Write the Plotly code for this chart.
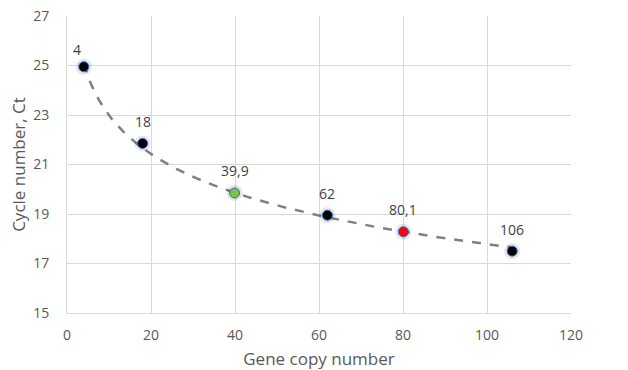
import numpy as np
import plotly.graph_objects as go

copies = [4, 18, 39.9, 62, 80.1, 106]
ct = [24.95, 21.85, 19.85, 18.95, 18.28, 17.5]
point_labels = ["4", "18", "39,9", "62", "80,1", "106"]
point_colors = ["#000000", "#000000", "#7dc242", "#000000", "#ff0000", "#000000"]

# logarithmic trendline fitted to the data
a, b = np.polyfit(np.log(copies), ct, 1)
tx = np.linspace(min(copies), max(copies), 200)
ty = a * np.log(tx) + b

FONT = "Open Sans, Liberation Sans, sans-serif"

fig = go.Figure()
fig.add_trace(go.Scatter(x=tx, y=ty, mode="lines",
                         line=dict(color="#808080", width=2.5, dash="dash"),
                         hoverinfo="skip", showlegend=False))
# soft shadow
fig.add_trace(go.Scatter(x=copies, y=ct, mode="markers",
                         marker=dict(size=16, color="rgba(0,0,0,0.10)", line=dict(width=0)),
                         hoverinfo="skip", showlegend=False))
fig.add_trace(go.Scatter(x=copies, y=ct, mode="markers",
                         marker=dict(size=10, color=point_colors,
                                     line=dict(color="#2f64d0", width=1)),
                         showlegend=False))

for i, (xv, yv, lab) in enumerate(zip(copies, ct, point_labels)):
    fig.add_annotation(x=xv, y=yv, text=lab, showarrow=False,
                       xshift=-7 if i == 0 else 0, yshift=22 if i > 0 else 17,
                       font=dict(family=FONT, size=14, color="#404040"))

axis_font = dict(family=FONT, size=14, color="#595959")
title_font = dict(family=FONT, size=17, color="#595959")

fig.update_layout(
    width=628, height=370,
    margin=dict(l=67, r=57, t=16, b=57),
    paper_bgcolor="white", plot_bgcolor="white",
    xaxis=dict(range=[0, 120], dtick=20, tick0=0, showgrid=True, gridcolor="#d9d9d9",
               gridwidth=1, zeroline=False, showline=True, linecolor="#d9d9d9",
               tickfont=axis_font, ticks="", ticklabelstandoff=9, automargin=False,
               title=dict(text="Gene copy number", font=title_font, standoff=23)),
    yaxis=dict(range=[15, 27], dtick=2, tick0=15, showgrid=True, gridcolor="#d9d9d9",
               gridwidth=1, zeroline=False, showline=True, linecolor="#d9d9d9",
               tickfont=axis_font, ticks="", ticklabelstandoff=14, automargin=False,
               title=dict(text="Cycle number, Ct", font=title_font, standoff=3)),
)

fig.write_html("out.html", config={"displayModeBar": False},
               post_script="document.body.style.margin='0';")
